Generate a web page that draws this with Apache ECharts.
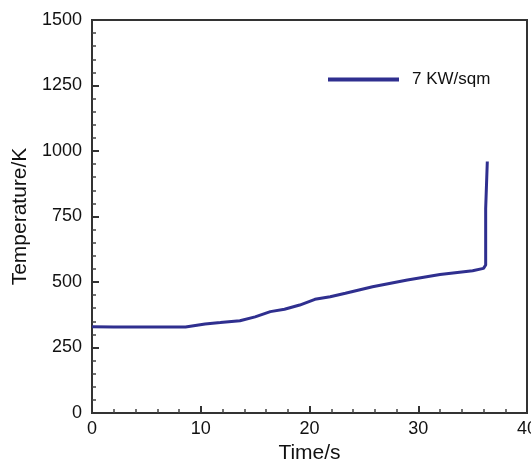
<!DOCTYPE html>
<html>
<head>
<meta charset="utf-8">
<script src="https://cdn.jsdelivr.net/npm/echarts@6/dist/echarts.min.js"></script>
<style>
  html, body { margin: 0; padding: 0; background: #fff; }
  #chart { width: 531px; height: 463px; }
</style>
</head>
<body>
<div id="chart"></div>
<script>
// time (s) and temperature (K)
const timeS = [0, 2, 4, 6, 8, 8.6, 8.7, 10.4, 11.8, 13.6, 15, 16.4, 17.7, 19.1, 20.5, 21.9, 23.3, 25.8, 29, 32, 35, 36, 36.2, 36.2, 36.35, 36.35];
const tempK = [329, 328, 328, 328, 328, 328, 333, 340, 345, 352, 367, 387, 396, 412, 434, 444, 457, 482, 508, 529, 543, 552, 565, 780, 780, 960];
const seriesName = "7 KW/sqm";

const chart = echarts.init(document.getElementById("chart"));
chart.setOption({
  animation: false,
  grid: {
    left: 92,
    right: 4,
    top: 20,
    bottom: 50,
    outerBoundsMode: "none",
    containLabel: false,
    show: true,
    borderColor: "#333",
    borderWidth: 2
  },
  legend: {
    left: 323,
    top: 66,
    icon: "rect",
    itemWidth: 71,
    itemHeight: 4,
    textStyle: {
      fontFamily: "Liberation Sans",
      fontSize: 17,
      color: "#111",
      padding: [0, 0, 0, 8]
    },
    data: [seriesName]
  },
  xAxis: {
    type: "value",
    min: 0,
    max: 40,
    interval: 10,
    name: "Time/s",
    nameLocation: "middle",
    nameGap: 29,
    nameTextStyle: { fontFamily: "Liberation Sans", fontSize: 21, color: "#111" },
    axisLine: { lineStyle: { color: "#333", width: 2 } },
    axisTick: { inside: true, length: 7, lineStyle: { color: "#333", width: 2 } },
    minorTick: { show: true, splitNumber: 5, length: 4, lineStyle: { color: "#444", width: 1.5 } },
    axisLabel: { fontFamily: "Liberation Sans", fontSize: 18, color: "#111", margin: 7, formatter: v => String(v) },
    splitLine: { show: false }
  },
  yAxis: {
    type: "value",
    min: 0,
    max: 1500,
    interval: 250,
    name: "Temperature/K",
    nameLocation: "middle",
    nameGap: 59,
    nameTextStyle: { fontFamily: "Liberation Sans", fontSize: 21, color: "#111" },
    axisLine: { lineStyle: { color: "#333", width: 2 } },
    axisTick: { inside: true, length: 7, lineStyle: { color: "#333", width: 2 } },
    minorTick: { show: true, splitNumber: 5, length: 4, lineStyle: { color: "#444", width: 1.5 } },
    axisLabel: { fontFamily: "Liberation Sans", fontSize: 18, color: "#111", margin: 10, formatter: v => String(v) },
    splitLine: { show: false }
  },
  series: [{
    name: seriesName,
    type: "line",
    symbol: "none",
    color: "#2f2f8f",
    lineStyle: { width: 3, color: "#2f2f8f" },
    data: timeS.map((t, i) => [t, tempK[i]])
  }]
});
</script>
</body>
</html>
